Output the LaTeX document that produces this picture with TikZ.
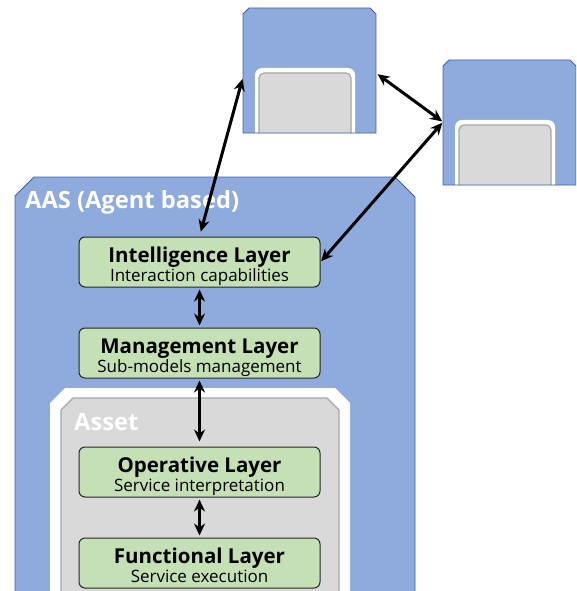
\documentclass[tikz,border=0pt]{standalone}
\usepackage{fontspec}
\setmainfont{Open Sans}
\usetikzlibrary{arrows.meta}
\definecolor{aasblue}{HTML}{8FAADC}
\definecolor{aasedge}{HTML}{3F62A8}
\definecolor{assetgray}{HTML}{D9D9D9}
\definecolor{grayedge}{HTML}{A6A6A6}
\definecolor{layergreen}{HTML}{C5E0B4}
\tikzset{
  blueshape/.style={fill=aasblue,draw=aasedge,line width=0.9pt},
  whiteframe/.style={fill=white,draw=none},
  grayshape/.style={fill=assetgray,draw=grayedge,line width=1.2pt},
  layer/.style={rectangle,rounded corners=6pt,minimum width=241pt,minimum height=50pt,
    fill=layergreen,draw=black!85,line width=1pt,inner sep=0pt},
  ttl/.style={anchor=base,inner sep=0pt,font=\fontsize{20.5}{23}\selectfont\bfseries},
  subt/.style={anchor=base,inner sep=0pt,font=\fontsize{17}{19}\selectfont},
  bigttl/.style={anchor=base west,inner sep=0pt,text=white,font=\fontsize{23.7}{26}\selectfont\bfseries},
  link/.style={line width=3pt,{Stealth[length=12pt,width=11pt]}-{Stealth[length=12pt,width=11pt]}}
}
\begin{document}
\begin{tikzpicture}[x=1pt,y=-1pt]
\useasboundingbox (0,0) rectangle (576,591);
\clip (0,0) rectangle (576,591);
% small AAS copies
\foreach \dx/\dy in {0/0,200/52}{
 \begin{scope}[shift={(\dx,\dy)}]
  \begin{scope}
  \clip (243,133) -- (243,14) -- (249,8) -- (370,8) -- (376,14) -- (376,133) -- cycle;
  \fill[aasblue] (243,134) -- (243,14) -- (249,8) -- (370,8) -- (376,14) -- (376,134) -- cycle;
  \fill[white,rounded corners=7pt] (255,140) -- (255,68) -- (355,68) -- (355,140);
  \fill[white] (255,120) rectangle (355,134);
  \draw[grayshape,rounded corners=5pt] (259,140) -- (259,73) -- (351,73) -- (351,140);
  \end{scope}
  \draw[aasedge,line width=0.9pt] (243,133) -- (243,14) -- (249,8) -- (370,8) -- (376,14) -- (376,133) -- cycle;
 \end{scope}}
\coordinate (b1w) at (243,77);
\coordinate (b1e) at (376,73);
\coordinate (b2w) at (443,122);
% main AAS
\draw[blueshape] (15,600) -- (15,196) -- (34,177) -- (395,177) -- (415,197) -- (415,600);
\node[bigttl] (aas) at (25,208) {AAS (Agent based)};
% asset
\fill[whiteframe] (50,600) -- (50,403) -- (65,388) -- (335,388) -- (350,403) -- (350,600) -- cycle;
\draw[grayshape] (61,600) -- (61,410) -- (73,398) -- (327,398) -- (339,410) -- (339,600);
\node[bigttl] (asset) at (74,430) {Asset};
% layers
\node[layer] (intel) at (199.5,262) {};
\node[ttl] (intelT) at (199.5,262) {Intelligence Layer};
\node[subt] (intelS) at (199.5,281) {Interaction capabilities};
\node[layer] (mgmt) at (199.5,353) {};
\node[ttl] (mgmtT) at (199.5,353) {Management Layer};
\node[subt] (mgmtS) at (199.5,372) {Sub-models management};
\node[layer] (oper) at (199.5,472) {};
\node[ttl] (operT) at (199.5,472) {Operative Layer};
\node[subt] (operS) at (199.5,491) {Service interpretation};
\node[layer] (func) at (199.5,563) {};
\node[ttl] (funcT) at (199.5,563) {Functional Layer};
\node[subt] (funcS) at (199.5,582) {Service execution};
% connectors
\draw[link,shorten <=5pt,shorten >=2pt] (intel.north) -- (b1w);
\draw[link,shorten <=1pt,shorten >=1pt] (intel.east) -- (b2w);
\draw[link,shorten <=2pt,shorten >=1pt] (b1e) -- (b2w);
\draw[link,shorten <=2pt,shorten >=2pt] (intel.south) -- (mgmt.north);
\draw[link,shorten <=2pt,shorten >=5pt] (mgmt.south) -- (oper.north);
\draw[link,shorten <=2pt,shorten >=2pt] (oper.south) -- (func.north);
\end{tikzpicture}
\end{document}
